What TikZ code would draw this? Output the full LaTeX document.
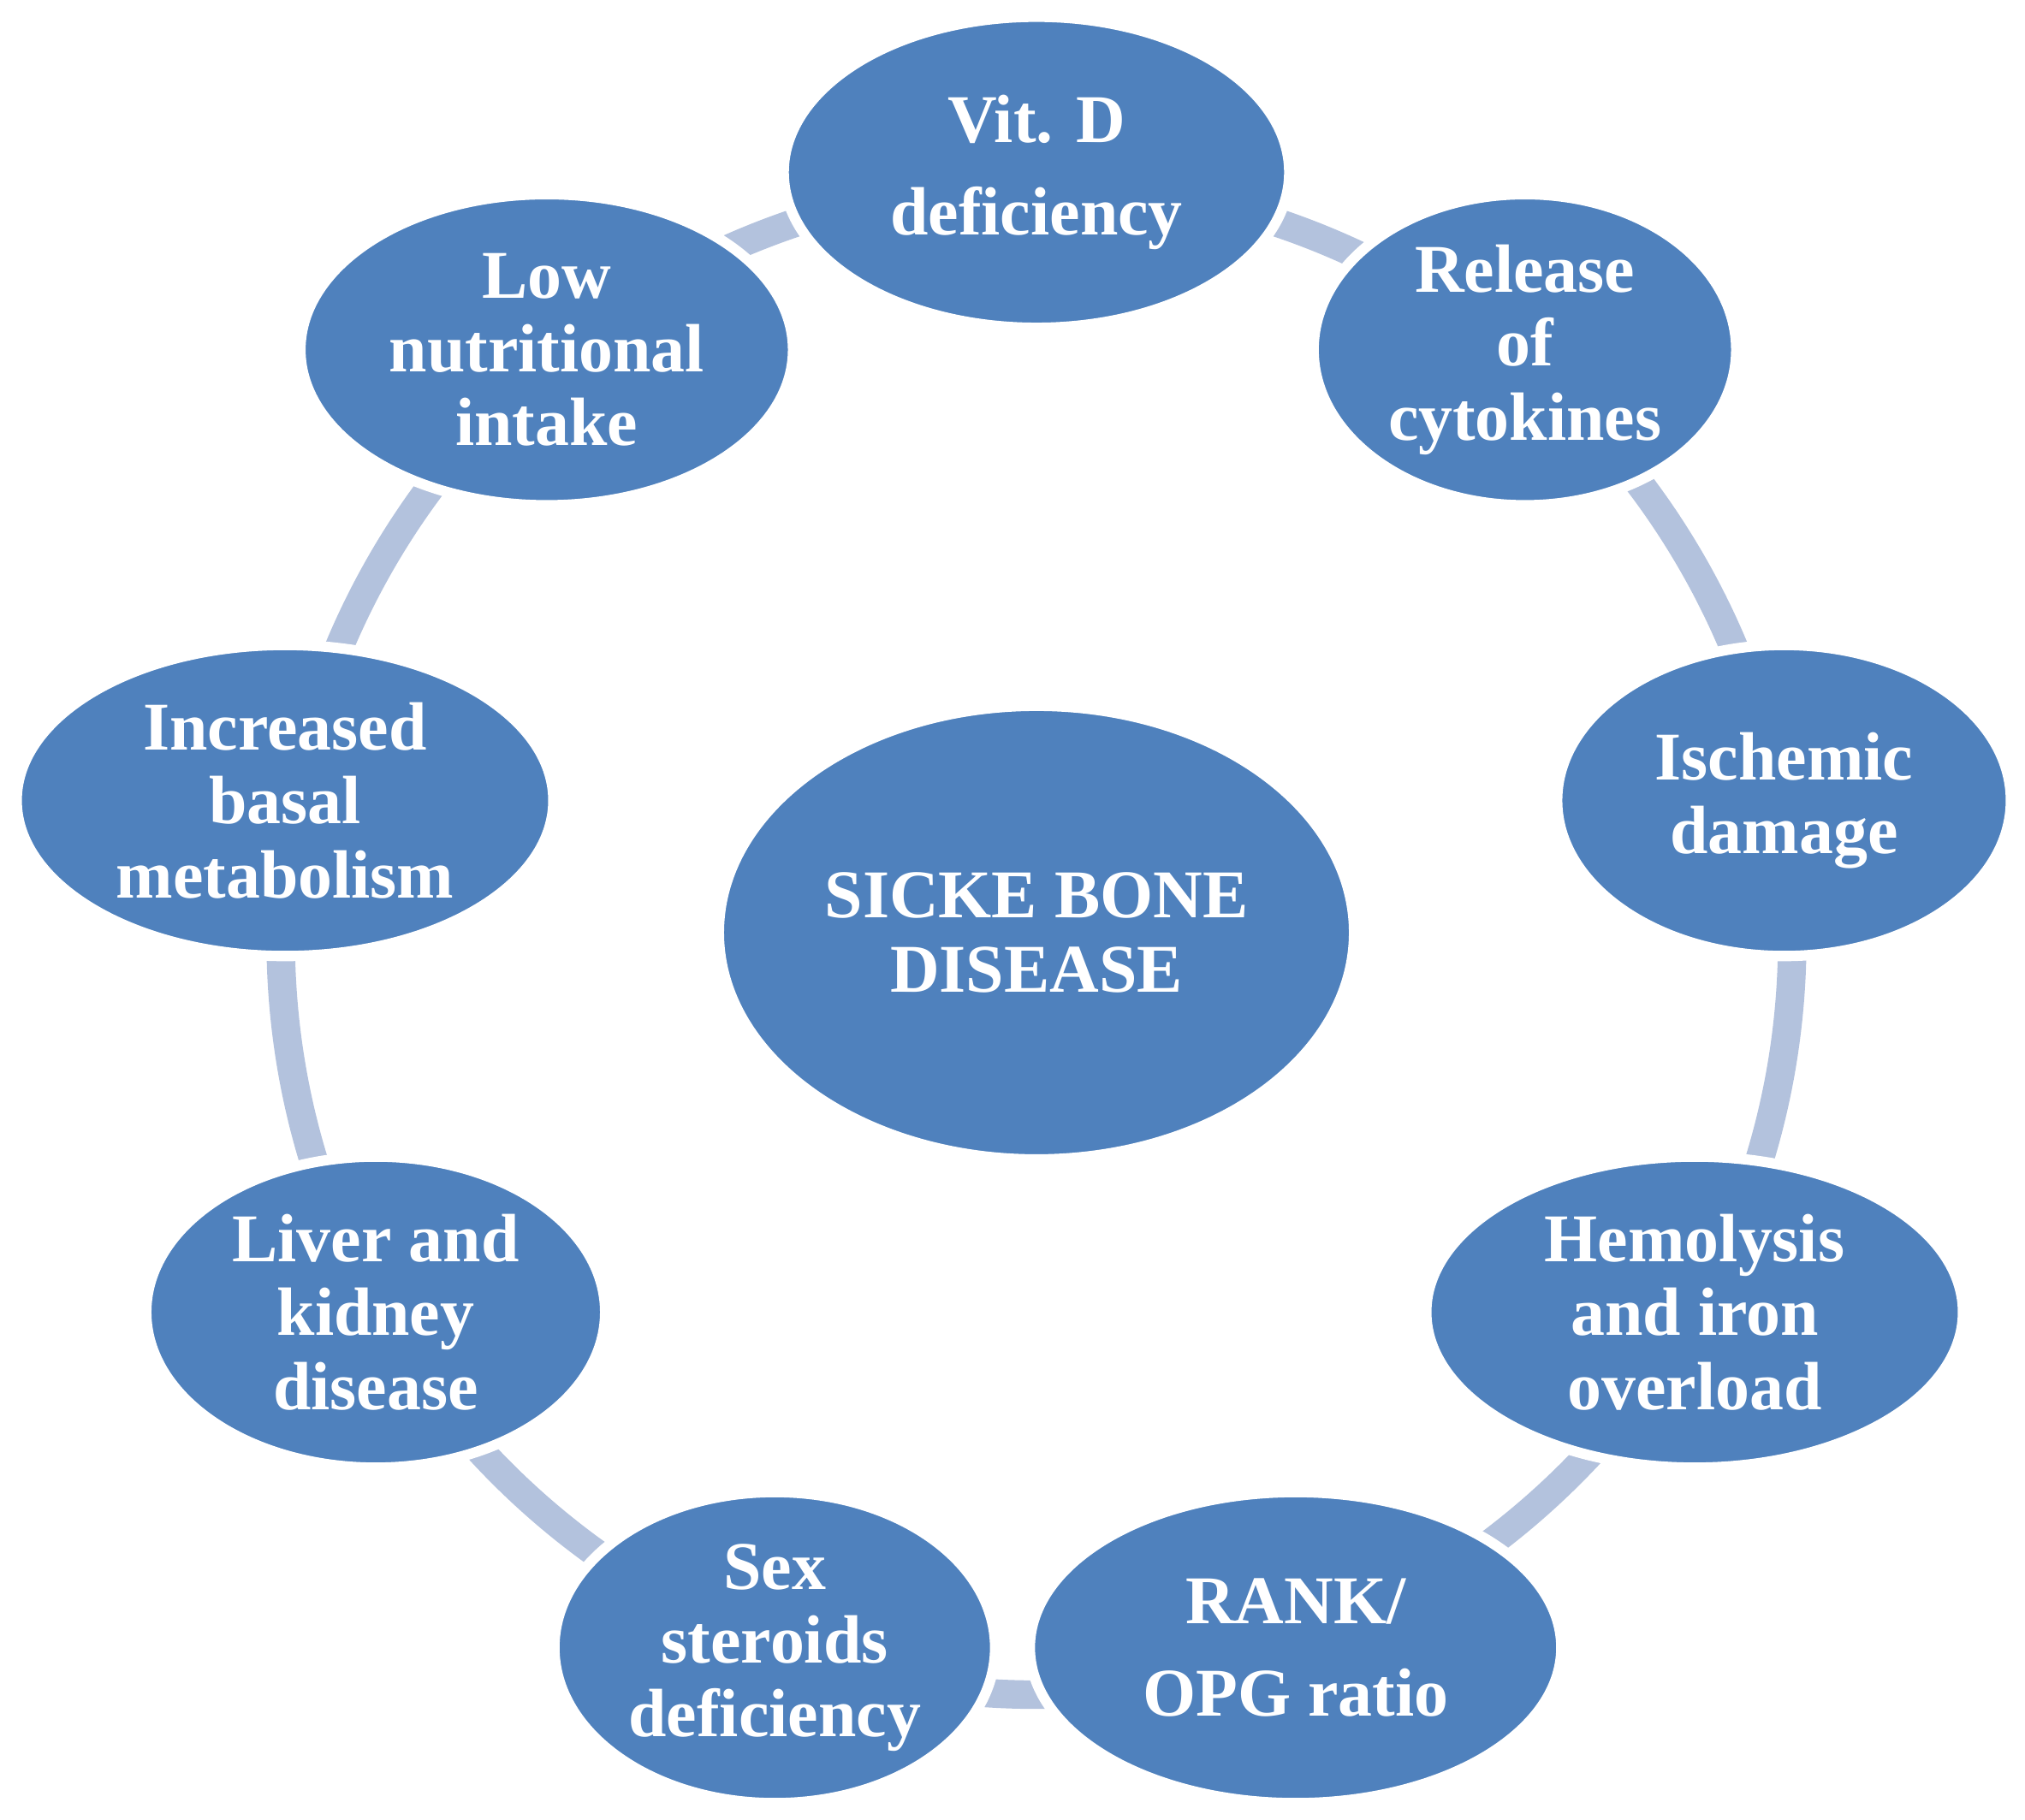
\documentclass[tikz,border=0pt]{standalone}
\usepackage{fontspec}
\setmainfont{Liberation Serif}
\usetikzlibrary{shapes.geometric}
\definecolor{nodeblue}{HTML}{4F81BD}
\definecolor{arcblue}{HTML}{B3C2DD}
\begin{document}
\begin{tikzpicture}[x=0.01cm,y=-0.01cm,
  bub/.style={ellipse,fill=nodeblue,draw=white,line width=0.8mm,text=white,font=\bfseries\fontsize{15}{16.2}\selectfont,align=center,inner sep=0pt}]
\useasboundingbox (0,0) rectangle (1563,1405);
\coordinate (c) at (800,725);
\draw[arcblue,line width=2.2mm] (c) circle[radius=5.83cm];
\node[bub,minimum width=3.9cm,minimum height=2.4cm] (vit) at (800,133) {Vit. D\\[4pt]deficiency};
\node[bub,minimum width=3.26cm,minimum height=2.4cm] (rel) at (1177,270) {Release\\of\\cytokines};
\node[bub,minimum width=3.5cm,minimum height=2.4cm] (isc) at (1377,618) {Ischemic\\damage};
\node[bub,minimum width=4.14cm,minimum height=2.4cm] (hem) at (1308,1013) {Hemolysis\\and iron\\overload};
\node[bub,minimum width=4.1cm,minimum height=2.4cm] (rank) at (1000,1272) {RANK/\\[4pt]OPG ratio};
\node[bub,minimum width=3.4cm,minimum height=2.4cm] (sex) at (598,1272) {Sex\\steroids\\deficiency};
\node[bub,minimum width=3.54cm,minimum height=2.4cm] (liv) at (290,1013) {Liver and\\kidney\\disease};
\node[bub,minimum width=4.14cm,minimum height=2.4cm] (inc) at (220,618) {Increased\\basal\\metabolism};
\node[bub,minimum width=3.8cm,minimum height=2.4cm] (low) at (422,270) {Low\\nutritional\\intake};
\node[bub,minimum width=4.9cm,minimum height=3.5cm] (ctr) at (800,720) {SICKE BONE\\DISEASE};
\end{tikzpicture}
\end{document}
